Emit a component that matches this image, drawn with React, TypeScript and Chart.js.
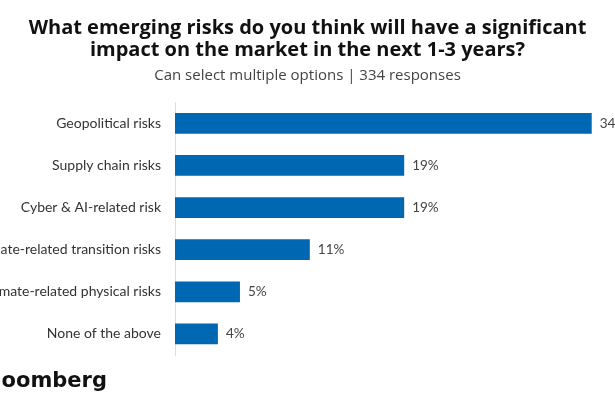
import React, { useEffect, useRef } from "react";
import { Chart, registerables } from "chart.js";

Chart.register(...registerables);

const categories = [
  "Geopolitical risks",
  "Supply chain risks",
  "Cyber & AI-related risk",
  "Climate-related transition risks",
  "Climate-related physical risks",
  "None of the above",
];
const values = [34, 18.7, 18.7, 11, 5.3, 3.5];
const valueLabels = ["34%", "19%", "19%", "11%", "5%", "4%"];
const axisMax = 35.9;
const titleLines = [
  "What emerging risks do you think will have a significant",
  "impact on the market in the next 1-3 years?",
];
const subtitleText = "Can select multiple options | 334 responses";
const sourceText = "Bloomberg";

const valueLabelPlugin = {
  id: "valueLabels",
  afterDatasetsDraw(chart: any) {
    const ctx = chart.ctx;
    const meta = chart.getDatasetMeta(0);
    ctx.save();
    ctx.font = "13.5px Lato";
    ctx.fillStyle = "#444444";
    ctx.textAlign = "left";
    ctx.textBaseline = "middle";
    meta.data.forEach((bar: any, i: number) => {
      ctx.fillText(valueLabels[i], bar.x + 8, bar.y);
    });
    ctx.restore();
  },
};

const sourcePlugin = {
  id: "sourceText",
  afterDraw(chart: any) {
    const ctx = chart.ctx;
    ctx.save();
    ctx.font = "bold 21px 'DejaVu Sans'";
    ctx.fillStyle = "#111111";
    ctx.textAlign = "right";
    ctx.textBaseline = "alphabetic";
    ctx.fillText(sourceText, 107, 387);
    ctx.restore();
  },
};

export default function App() {
  const ref = useRef<HTMLCanvasElement | null>(null);
  useEffect(() => {
    if (!ref.current) return;
    const chart = new Chart(ref.current, {
      type: "bar",
      data: {
        labels: categories,
        datasets: [
          {
            data: values,
            backgroundColor: "#0067b2",
            borderWidth: 0,
            barPercentage: 0.49,
            categoryPercentage: 1,
          },
        ],
      },
      options: {
        indexAxis: "y",
        animation: false,
        responsive: false,
        maintainAspectRatio: false,
        layout: { padding: { left: 0, right: 0, top: 0, bottom: 55 } },
        plugins: {
          legend: { display: false },
          tooltip: { enabled: false },
          title: {
            display: true,
            text: titleLines,
            color: "#111111",
            font: { family: "'Open Sans'", size: 20, weight: "bold", lineHeight: 1.1 },
            padding: { top: 17, bottom: 6 },
          },
          subtitle: {
            display: true,
            text: subtitleText,
            color: "#444444",
            font: { family: "'Open Sans'", size: 15, lineHeight: 1.15 },
            padding: { top: 0, bottom: 18 },
          },
        },
        scales: {
          x: { display: false, min: 0, max: axisMax },
          y: {
            afterFit: (scale: any) => {
              scale.width = 175;
            },
            grid: { display: false, drawTicks: false },
            border: { display: true, color: "#dddddd", width: 1 },
            ticks: {
              color: "#333333",
              font: { family: "Lato", size: 14 },
              padding: 14,
              autoSkip: false,
            },
          },
        },
      },
      plugins: [valueLabelPlugin, sourcePlugin],
    });
    return () => chart.destroy();
  }, []);
  return (
    <div style={{ position: "fixed", left: 0, top: 0, width: 615, height: 410, overflow: "hidden", background: "#fff" }}>
      <canvas ref={ref} width={615} height={410} style={{ width: 615, height: 410, display: "block" }} />
    </div>
  );
}
